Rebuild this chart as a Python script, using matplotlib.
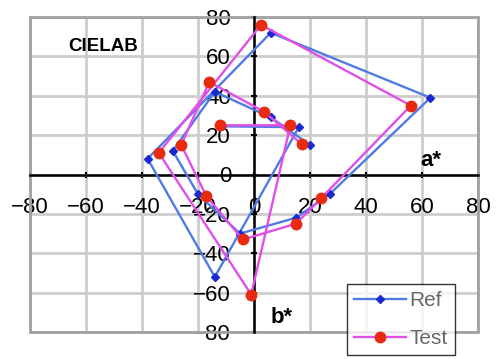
import matplotlib
matplotlib.use("Agg")
import matplotlib.pyplot as plt
from matplotlib.patches import Rectangle

plt.rcParams['font.family'] = ['Liberation Sans', 'DejaVu Sans']

# CIELAB a*/b* coordinates
ref_a = [-11.5, 16, -14, -38, 6, 63, 27, 15, -5, -20, -29, -14, 6, 20]
ref_b = [24.5, 24, -52, 8, 72, 39, -10, -22, -30, -10, 12, 42, 29, 15]
test_a = [-12, 13, -1, -34, 2.5, 56, 24, 15, -4, -17, -26, -16, 3.5, 17]
test_b = [25, 25, -61, 11, 76, 35, -12, -25, -33, -11, 15, 47, 32, 15.5]

ticks = [-80, -60, -40, -20, 0, 20, 40, 60, 80]

fig = plt.figure(figsize=(4.97, 3.59), dpi=100)
ax = fig.add_axes([30/497, 1-332/359, 448/497, 315/359])

ax.plot(ref_a, ref_b, color='#4f7be2', lw=1.7, marker='D', ms=4,
        mfc='#1a2ad0', mec='#1a2ad0', label='Ref', zorder=3)
ax.plot(test_a, test_b, color='#e050e8', lw=1.7, marker='o', ms=7.5,
        mfc='#e82a10', mec='#e82a10', label='Test', zorder=4)

ax.set_xlim(-80, 80)
ax.set_ylim(-80, 80)
ax.set_xticks(ticks)
ax.set_yticks(ticks)
ax.grid(True, color='#cdcdcd', lw=2, zorder=0)
ax.set_axisbelow(True)

for s in ['top', 'right']:
    ax.spines[s].set_visible(False)
for s in ['left', 'bottom']:
    ax.spines[s].set_position('zero')
    ax.spines[s].set_linewidth(1.8)
    ax.spines[s].set_zorder(2)
ax.add_patch(Rectangle((0, 0), 1, 1, transform=ax.transAxes, fill=False,
                       edgecolor='#a0a0a0', lw=2, zorder=1, clip_on=False))

ax.tick_params(axis='x', direction='inout', length=5, width=1.5, pad=14, labelsize=16)
ax.tick_params(axis='y', direction='inout', length=5, width=1.5, pad=14, labelsize=16)

ax.text(-54, 65, 'CIELAB', fontsize=13.5, fontweight='bold', ha='center', va='center')
ax.text(63, 2, 'a*', fontsize=16, fontweight='bold', ha='center', va='bottom')
ax.text(10, -78, 'b*', fontsize=16, fontweight='bold', ha='center', va='bottom')

leg = fig.legend(loc='upper left', bbox_to_anchor=(347/497, 1-284/359),
                 fontsize=15, frameon=True, fancybox=False, borderpad=0.35,
                 labelspacing=0.9, handlelength=2.5, handletextpad=0.15,
                 borderaxespad=0)
leg.get_frame().set_edgecolor('black')
leg.get_frame().set_linewidth(1)
for t in leg.get_texts():
    t.set_color('#666666')

fig.savefig('out.png', dpi=100)
